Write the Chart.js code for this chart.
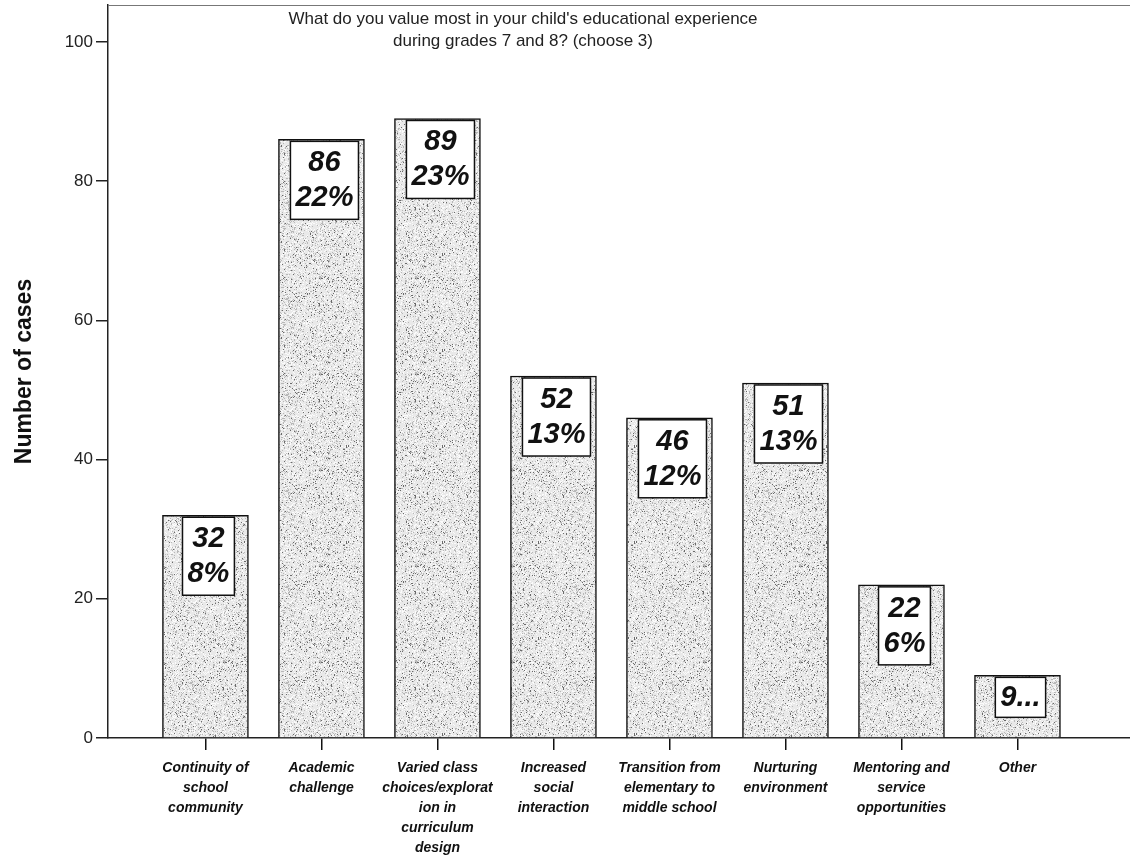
<!DOCTYPE html>
<html>
<head>
<meta charset="utf-8">
<script src="https://cdn.jsdelivr.net/npm/chart.js@4.4.1/dist/chart.umd.min.js"></script>
<style>
  html, body { margin: 0; padding: 0; background: #fff; }
  #wrap { width: 1130px; height: 857px; }
</style>
</head>
<body>
<div id="wrap"><canvas id="myChart" width="1130" height="857"></canvas></div>
<script>
const categories = [
  ["Continuity of", "school", "community"],
  ["Academic", "challenge"],
  ["Varied class", "choices/explorat", "ion in", "curriculum", "design"],
  ["Increased", "social", "interaction"],
  ["Transition from", "elementary to", "middle school"],
  ["Nurturing", "environment"],
  ["Mentoring and", "service", "opportunities"],
  ["Other"]
];
const counts = [32, 86, 89, 52, 46, 51, 22, 9];
const percents = ["8%", "22%", "23%", "13%", "12%", "13%", "6%", null];
const yTicks = [0, 20, 40, 60, 80, 100];
const titleLines = [
  "What do you value most in your child's educational experience",
  "during grades 7 and 8? (choose 3)"
];

// stippled grey fill like the scanned print
function makeStipple() {
  const c = document.createElement('canvas');
  c.width = 96; c.height = 96;
  const g = c.getContext('2d');
  g.fillStyle = '#e9e9e9';
  g.fillRect(0, 0, 96, 96);
  let s = 12345;
  function rnd() { s = (s * 1103515245 + 12345) & 0x7fffffff; return s / 0x7fffffff; }
  for (let y = 0; y < 96; y++) {
    for (let x = 0; x < 96; x++) {
      const r = rnd();
      if (r < 0.035) { g.fillStyle = '#6a6a6a'; g.fillRect(x, y, 1, 1); }
      else if (r < 0.17) { g.fillStyle = '#b8b8b8'; g.fillRect(x, y, 1, 1); }
      else if (r < 0.34) { g.fillStyle = '#fbfbfb'; g.fillRect(x, y, 1, 1); }
    }
  }
  return g.createPattern(c, 'repeat');
}

const frameAndTitle = {
  id: 'frameAndTitle',
  afterDraw(chart) {
    const ctx = chart.ctx, a = chart.chartArea;
    ctx.save();
    ctx.strokeStyle = '#777';
    ctx.lineWidth = 1;
    ctx.beginPath();
    ctx.moveTo(a.left, a.top + 0.5);
    ctx.lineTo(a.right, a.top + 0.5);
    ctx.stroke();
    ctx.fillStyle = '#222';
    ctx.font = '17px "Liberation Sans", Arial, sans-serif';
    ctx.textAlign = 'center';
    ctx.textBaseline = 'middle';
    ctx.fillText(titleLines[0], a.left + 415, 19);
    ctx.fillText(titleLines[1], a.left + 415, 41);
    ctx.restore();
  }
};

const valueBoxes = {
  id: 'valueBoxes',
  afterDatasetsDraw(chart) {
    const ctx = chart.ctx;
    const meta = chart.getDatasetMeta(0);
    ctx.save();
    ctx.font = 'italic bold 29px "Liberation Sans", Arial, sans-serif';
    ctx.textAlign = 'center';
    ctx.textBaseline = 'middle';
    meta.data.forEach((bar, i) => {
      const lines = percents[i] ? [String(counts[i]), percents[i]] : [counts[i] + '...'];
      const w = Math.max(...lines.map(t => ctx.measureText(t).width)) + 10;
      const h = lines.length === 2 ? 78 : 40;
      const cx = bar.x + 3;
      const top = bar.y + 2;
      ctx.fillStyle = '#fff';
      ctx.fillRect(cx - w / 2, top, w, h);
      ctx.strokeStyle = '#111';
      ctx.lineWidth = 1.5;
      ctx.strokeRect(cx - w / 2, top, w, h);
      ctx.fillStyle = '#111';
      if (lines.length === 2) {
        ctx.fillText(lines[0], cx, top + 22);
        ctx.fillText(lines[1], cx, top + 57);
      } else {
        ctx.fillText(lines[0], cx, top + 21);
      }
    });
    ctx.restore();
  }
};

new Chart("myChart", {
  type: "bar",
  data: {
    datasets: [{
      data: counts.map((v, i) => ({ x: i + 1, y: v })),
      backgroundColor: makeStipple(),
      borderColor: "#111",
      borderWidth: 1.5,
      barThickness: 86
    }]
  },
  options: {
    responsive: false,
    animation: false,
    layout: { padding: { top: 5, right: 0, left: 0, bottom: 0 } },
    plugins: {
      legend: { display: false },
      tooltip: { enabled: false }
    },
    scales: {
      x: {
        type: "linear",
        offset: false,
        min: 0.16,
        max: 8.97,
        afterBuildTicks(scale) {
          scale.ticks = categories.map((c, i) => ({ value: i + 1 }));
        },
        afterFit(scale) { scale.height = 119; scale.paddingLeft = 0; scale.paddingRight = 0; },
        ticks: {
          autoSkip: false,
          maxRotation: 0,
          padding: 8,
          color: "#111",
          font: { family: "Liberation Sans", size: 14, style: "italic", weight: "bold", lineHeight: 1.43 },
          callback: (v) => categories[v - 1]
        },
        grid: { display: true, offset: false, drawOnChartArea: false, tickLength: 12, color: "#111", lineWidth: 1.5 },
        border: { display: true, color: "#222", width: 1.5 }
      },
      y: {
        min: 0,
        max: 105.3,
        afterBuildTicks(scale) {
          scale.ticks = yTicks.map(v => ({ value: v }));
        },
        afterFit(scale) { scale.width = 108; scale.paddingTop = 0; scale.paddingBottom = 0; },
        ticks: {
          padding: 3,
          color: "#222",
          font: { family: "Liberation Sans", size: 17 }
        },
        grid: { display: true, drawOnChartArea: false, tickLength: 12, color: "#222", lineWidth: 1.5 },
        border: { display: true, color: "#222", width: 1.5 },
        title: {
          display: true,
          text: "Number of cases",
          color: "#111",
          padding: { top: 11, bottom: 0 },
          font: { family: "Liberation Sans", size: 23, weight: "bold" }
        }
      }
    }
  },
  plugins: [frameAndTitle, valueBoxes]
});
</script>
</body>
</html>
